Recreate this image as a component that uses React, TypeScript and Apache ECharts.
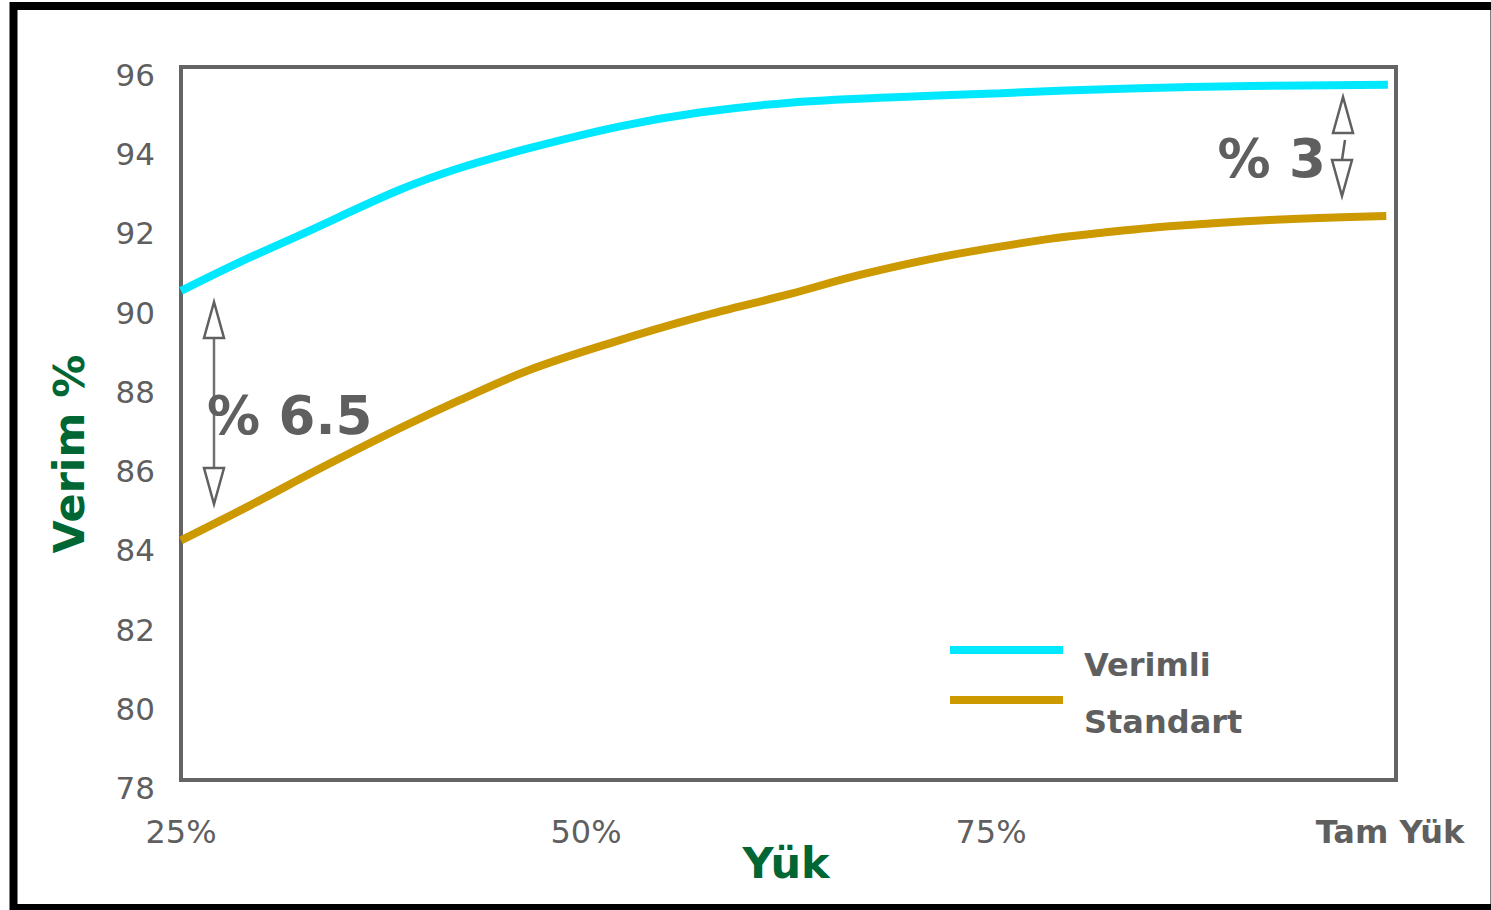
import React, { useEffect, useRef } from "react";
import * as echarts from "echarts";

// Load levels (% of full load) and efficiency values for each motor class
const verimliLoad = [25, 28.5, 32.3, 38.5, 42.2, 46.5, 52.1, 57, 62.6, 69.4, 75.6, 83.6, 91, 99.5];
const verimliEff = [90.35, 91.05, 91.75, 92.9, 93.45, 93.95, 94.5, 94.85, 95.1, 95.24, 95.34, 95.46, 95.52, 95.55];

const standartLoad = [25, 29.3, 33.6, 38.5, 42.2, 46.5, 51.5, 57, 62.6, 66.9, 72.5, 78.6, 81.7, 86, 92.2, 99.4];
const standartEff = [84.05, 84.94, 85.87, 86.88, 87.59, 88.35, 89.03, 89.69, 90.27, 90.75, 91.25, 91.66, 91.81, 91.98, 92.14, 92.24];

const seriesNames = ["Verimli", "Standart"];
const seriesColors = ["#00E8FF", "#CC9900"];
const xTicks = [25, 50, 75, 100];
const fullLoadLabel = "Tam Yük";

const GRAY = "#5f5f5f";
const GREEN = "#006633";
const FONT = "DejaVu Sans";

export default function App() {
  const ref = useRef<HTMLDivElement>(null);

  useEffect(() => {
    document.body.style.margin = "0";
    const chart = echarts.init(ref.current!, null, { renderer: "svg" });

    const pairs = (xs: number[], ys: number[]) => xs.map((x, i) => [x, ys[i]]);
    const arrowStyle = { stroke: "#606060", lineWidth: 2.5, fill: "#ffffff" };

    chart.setOption({
      animation: false,
      backgroundColor: "#ffffff",
      textStyle: { fontFamily: FONT },
      grid: {
        left: 181,
        top: 67,
        width: 1215,
        height: 713,
        show: true,
        borderColor: "#646464",
        borderWidth: 4,
        backgroundColor: "transparent",
        containLabel: false,
      },
      xAxis: {
        type: "value",
        min: 25,
        max: 100,
        interval: 25,
        axisLine: { show: false },
        axisTick: { show: false },
        splitLine: { show: false },
        axisLabel: {
          color: GRAY,
          fontSize: 32,
          fontFamily: FONT,
          margin: 36,
          showMinLabel: true,
          showMaxLabel: true,
          formatter: (v: number) =>
            xTicks.includes(v) ? (v === 100 ? `{b|${fullLoadLabel}}` : `${v}%`) : "",
          rich: {
            b: { fontSize: 32, fontWeight: "bold", color: GRAY, fontFamily: FONT, padding: [0, 12, 0, 0] },
          },
        },
      },
      yAxis: {
        type: "value",
        min: 78,
        max: 96,
        interval: 2,
        axisLine: { show: false },
        axisTick: { show: false },
        splitLine: { show: false },
        axisLabel: {
          color: GRAY,
          fontSize: 31,
          fontFamily: FONT,
          margin: 26,
          verticalAlign: "top",
          lineHeight: 16,
        },
      },
      series: [
        {
          name: seriesNames[0],
          type: "line",
          data: pairs(verimliLoad, verimliEff),
          showSymbol: false,
          smooth: 0.35,
          lineStyle: { color: seriesColors[0], width: 8, cap: "butt" },
          z: 3,
        },
        {
          name: seriesNames[1],
          type: "line",
          data: pairs(standartLoad, standartEff),
          showSymbol: false,
          smooth: 0.35,
          lineStyle: { color: seriesColors[1], width: 8, cap: "butt" },
          z: 3,
        },
      ],
      graphic: [
        // outer frame
        {
          type: "rect",
          shape: { x: 13.5, y: 6, width: 1481, height: 902 },
          style: { fill: "none", stroke: "#000000", lineWidth: 8 },
          silent: true,
          z: 0,
        },
        // axis titles
        {
          type: "text",
          x: 786,
          y: 863,
          style: {
            text: "Yük",
            font: `bold 43px '${FONT}'`,
            fill: GREEN,
            textAlign: "center",
            textVerticalAlign: "middle",
          },
        },
        {
          type: "text",
          x: 69,
          y: 454,
          rotation: Math.PI / 2,
          style: {
            text: "Verim %",
            font: `bold 43px '${FONT}'`,
            fill: GREEN,
            textAlign: "center",
            textVerticalAlign: "middle",
          },
        },
        // legend
        {
          type: "line",
          shape: { x1: 950, y1: 650, x2: 1063, y2: 650 },
          style: { stroke: seriesColors[0], lineWidth: 8 },
        },
        {
          type: "line",
          shape: { x1: 950, y1: 700, x2: 1063, y2: 700 },
          style: { stroke: seriesColors[1], lineWidth: 8 },
        },
        {
          type: "text",
          x: 1084,
          y: 665,
          style: {
            text: seriesNames[0],
            font: `bold 32px '${FONT}'`,
            fill: GRAY,
            textAlign: "left",
            textVerticalAlign: "middle",
          },
        },
        {
          type: "text",
          x: 1084,
          y: 722,
          style: {
            text: seriesNames[1],
            font: `bold 32px '${FONT}'`,
            fill: GRAY,
            textAlign: "left",
            textVerticalAlign: "middle",
          },
        },
        // left gap arrow
        {
          type: "line",
          shape: { x1: 214, y1: 338, x2: 214, y2: 468 },
          style: { stroke: "#707070", lineWidth: 2.5 },
          z: 10,
        },
        {
          type: "polygon",
          shape: { points: [[214, 302], [204, 338], [224, 338]] },
          style: arrowStyle,
          z: 10,
        },
        {
          type: "polygon",
          shape: { points: [[204, 468], [224, 468], [214, 504]] },
          style: arrowStyle,
          z: 10,
        },
        {
          type: "text",
          x: 207,
          y: 415,
          style: {
            text: "% 6.5",
            font: `bold 53px '${FONT}'`,
            fill: GRAY,
            textAlign: "left",
            textVerticalAlign: "middle",
          },
          z: 11,
        },
        // right gap arrow
        {
          type: "line",
          shape: { x1: 1345, y1: 140, x2: 1342, y2: 160 },
          style: { stroke: "#606060", lineWidth: 2.5 },
          z: 10,
        },
        {
          type: "polygon",
          shape: { points: [[1343, 97], [1333, 133], [1353, 133]] },
          style: arrowStyle,
          z: 10,
        },
        {
          type: "polygon",
          shape: { points: [[1332, 160], [1352, 160], [1342, 196]] },
          style: arrowStyle,
          z: 10,
        },
        {
          type: "text",
          x: 1326,
          y: 158,
          style: {
            text: "% 3",
            font: `bold 53px '${FONT}'`,
            fill: GRAY,
            textAlign: "right",
            textVerticalAlign: "middle",
          },
          z: 11,
        },
      ],
    });

    return () => chart.dispose();
  }, []);

  return <div ref={ref} style={{ width: 1491, height: 910 }} />;
}
